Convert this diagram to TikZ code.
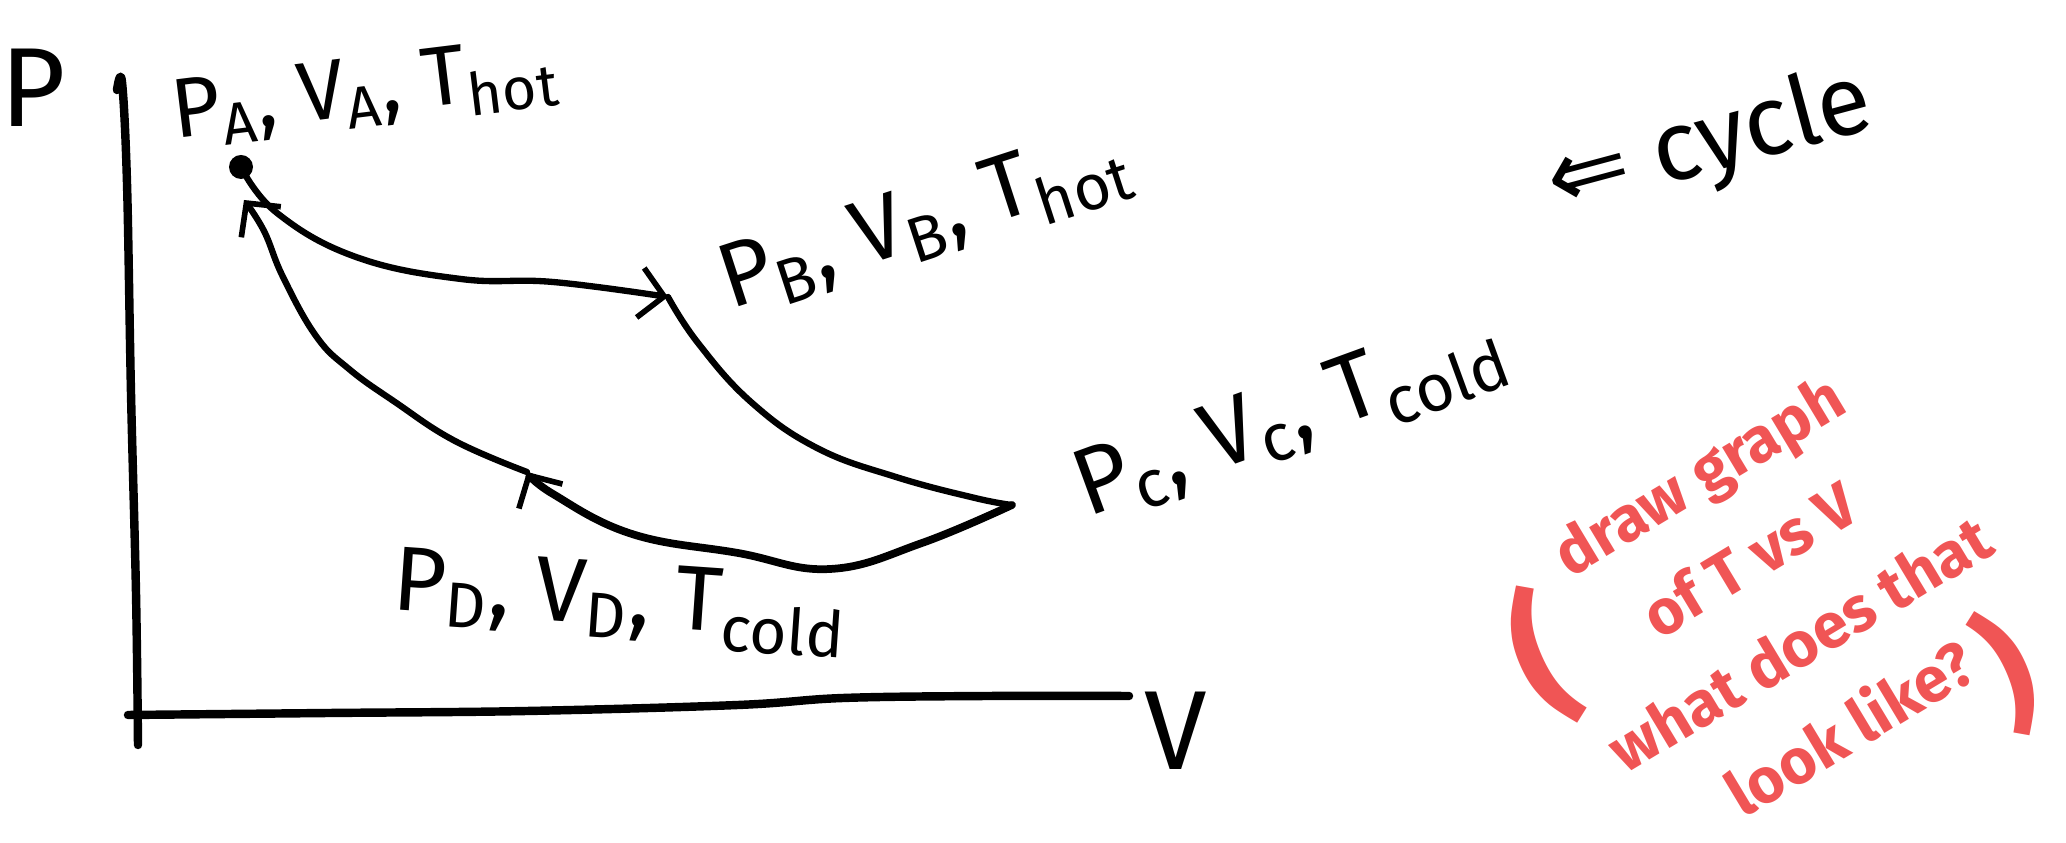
\documentclass[tikz,border=0pt]{standalone}
\usepackage{fontspec}
\setmainfont{Fira Sans}
\newfontfamily\symfont{DejaVu Sans}
\usepackage{tikz}
\usetikzlibrary{arrows.meta,positioning,calc}
\definecolor{inkred}{RGB}{240,85,85}

\begin{document}
\begin{tikzpicture}[
    pen/.style={draw=black, line width=1.8pt, line cap=round, line join=round},
    axispen/.style={draw=black, line width=2.4pt, line cap=round, line join=round},
    hand/.style={-{Straight Barb[length=2.4mm, width=5mm, line width=1.6pt]}},
    dotstate/.style={circle, fill=black, inner sep=0pt, minimum size=2.4mm},
    statelbl/.style={font=\fontsize{26}{30}\selectfont, inner sep=1pt},
    axlbl/.style={font=\fontsize{32}{36}\selectfont, inner sep=0pt},
    rednote/.style={font=\bfseries\fontsize{18}{28}\selectfont, text=inkred, align=center, inner sep=0pt}]
    \useasboundingbox (0,0) rectangle (20.66,8.43);

    % Axes
    \coordinate (ytop) at (1.22,7.61);
    \coordinate (ybot) at (1.38,0.98);
    \coordinate (xleft) at (1.28,1.28);
    \coordinate (xright) at (11.29,1.47);
    \draw[axispen] plot[smooth, tension=0.6] coordinates {(1.17,7.53) (ytop) (1.27,6.6) (1.31,4.5) (1.36,2.5) (ybot)};
    \draw[axispen] plot[smooth, tension=0.6] coordinates {(xleft) (3.29,1.30) (5.27,1.32) (7.38,1.38) (8.43,1.45) (9.88,1.47) (xright)};
    \node[axlbl] (plbl) at (0.33,7.55) {P};
    \node[axlbl] (vlbl) at (11.76,1.12) {V};

    % States of the cycle
    \node[dotstate] (A) at (2.41,6.76) {};
    \coordinate (B) at (6.68,5.46);
    \coordinate (C) at (10.12,3.38);
    \coordinate (D) at (5.27,3.71);
    \coordinate (Atip) at (2.44,6.43);
    \draw[pen, hand] plot[smooth, tension=0.7] coordinates {(A) (2.77,6.30) (3.56,5.86) (4.61,5.64) (5.53,5.61) (B)};
    \draw[pen] plot[smooth, tension=0.7] coordinates {(B) (6.98,5.00) (7.51,4.41) (8.17,3.95) (8.96,3.66) (9.75,3.45) (C)};
    \draw[pen, line width=2.2pt, hand] plot[smooth, tension=0.7] coordinates {(C) (9.22,3.00) (8.30,2.74) (7.38,2.90) (6.32,3.09) (5.53,3.49) (D)};
    \draw[pen, hand] plot[smooth, tension=0.7] coordinates {(D) (4.55,4.02) (3.95,4.41) (3.49,4.74) (3.16,5.07) (2.83,5.66) (2.64,6.12) (Atip)};

    \node[statelbl, rotate=7, font=\fontsize{24}{28}\selectfont] (Albl) at (3.65,7.50) {P\textsubscript{A}, V\textsubscript{A}, T\textsubscript{hot}};
    \node[statelbl, rotate=18] (Blbl) at (9.25,6.20) {P\textsubscript{B}, V\textsubscript{B}, T\textsubscript{hot}};
    \node[statelbl, rotate=20, font=\fontsize{27}{30}\selectfont] (Clbl) at (12.91,4.23) {P\textsubscript{c}, V\textsubscript{c}, T\textsubscript{cold}};
    \node[statelbl, rotate=-4] (Dlbl) at (6.20,2.40) {P\textsubscript{D}, V\textsubscript{D}, T\textsubscript{cold}};

    % Side notes
    \node[font=\fontsize{28}{32}\selectfont, rotate=15] (cyc) at (17.10,6.98) {{\symfont ⇐} cycle};
    \node[rednote, rotate=31] (note) at (17.74,2.42) {draw graph\\of T vs V\\what does that\\look like?};
    \node[rednote, font=\bfseries\fontsize{42}{42}\selectfont, rotate=24] (lpar) at (15.40,1.85) {(};
    \node[rednote, font=\bfseries\fontsize{38}{38}\selectfont, rotate=24] (rpar) at (20.08,1.72) {)};
\end{tikzpicture}
\end{document}
